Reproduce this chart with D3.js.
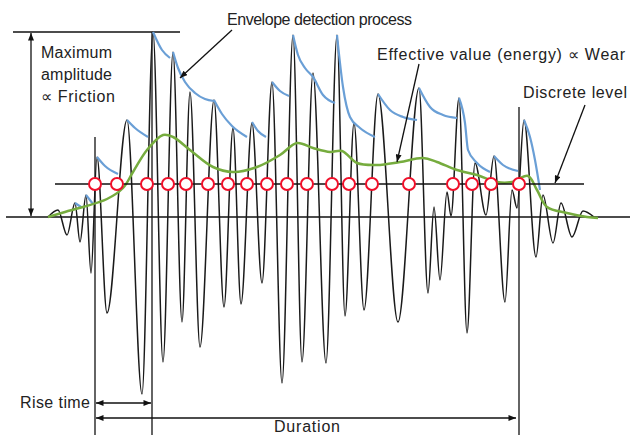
<!DOCTYPE html>
<html>
<head>
<meta charset="UTF-8">
<script src="https://cdn.jsdelivr.net/npm/d3@7"></script>
<style>
  body { margin: 0; background: #fff; }
  svg { display: block; }
  text { font-family: "Liberation Sans", Arial, sans-serif; font-size: 16px; fill: #222; }
</style>
</head>
<body>
<svg width="630" height="437"></svg>
<script>
// time in µs from the first arrival, amplitude in arbitrary units (baseline = 0)
const waveform = [
  [0,0],[10,7],[19,-18],[27,14],[32,-25],[38,22],[43,-56],[49,60],[59,-96],[79,97],
  [94,-177],[105,185],[115,-145],[125,165],[134,-105],[142,125],[152,-130],[166,117],
  [176,-90],[185,89],[193,-87],[204,94],[214,-66],[224,135],[234,-166],[245,182],
  [254,-145],[265,144],[278,-146],[289,182],[297,-99],[306,94],[316,-93],[330,123],
  [350,-105],[371,129],[380,-76],[386,10],[392,-63],[399,25],[403,1],[411,119],
  [419,-116],[427,54],[438,2],[446,61],[457,-85],[464,27],[469,9],[476,97],
  [488,-40],[495,22],[505,-26],[513,14],[524,-20],[535,6],[546,0]
];

// envelope detection: decay segments after each peak
const envelope = [
  [[27,14],[33,10]],
  [[38,22],[45,13]],
  [[49,60],[57,51],[70,43]],
  [[79,97],[87,89],[100,80]],
  [[105,185],[114,167],[122,159]],
  [[125,165],[130,149],[137,135],[147,124],[157,118],[166,116]],
  [[166,117],[174,103],[184,91],[199,80]],
  [[204,95],[210,86],[218,80]],
  [[224,135],[232,126],[241,121]],
  [[245,182],[250,162],[257,149],[265,140],[275,122],[287,114]],
  [[289,182],[295,130],[302,100],[312,89],[327,80]],
  [[330,123],[342,107],[355,100],[369,97]],
  [[371,129],[382,110],[395,102],[409,99]],
  [[411,119],[417,94],[420,67],[429,54],[442,45]],
  [[446,61],[455,52],[470,46]],
  [[476,97],[482,80],[487,57],[492,27]]
];

// effective value (energy)
const effective = [
  [0,0],[17,5],[35,10],[59,18],[75,29],[85,45],[99,67],[115,82],[125,80],[142,67],
  [165,50],[185,45],[209,50],[232,62],[249,74],[265,69],[282,65],[294,66],[309,54],
  [329,52],[352,55],[375,59],[389,55],[409,47],[429,42],[449,35],[464,35],[480,41],
  [489,27],[499,10],[519,4],[539,0],[550,-1]
];

// threshold crossings of the discrete level (counts)
const crossings = [47,69,99,120,138,160,180,199,219,239,259,284,301,324,361,405,424,443,471];

const discreteLevel = 33;
const maxAmplitude = 185;
const riseStart = 47, peakTime = 104, durationEnd = 471;

const svg = d3.select("svg");
const x = d3.scaleLinear().domain([0, 546]).range([48, 594]);
const y = d3.scaleLinear().domain([-185, 185]).range([402, 32]);

const defs = svg.append("defs");
defs.append("marker")
  .attr("id", "arrow")
  .attr("viewBox", "0 0 10 8")
  .attr("refX", 10).attr("refY", 4)
  .attr("markerWidth", 8).attr("markerHeight", 6)
  .attr("markerUnits", "userSpaceOnUse")
  .attr("orient", "auto-start-reverse")
  .append("path").attr("d", "M0,0L10,4L0,8z").attr("fill", "#111");

function line(x1, y1, x2, y2, sw) {
  return svg.append("line")
    .attr("x1", x1).attr("y1", y1).attr("x2", x2).attr("y2", y2)
    .attr("stroke", "#111").attr("stroke-width", sw || 1.3);
}

// baseline
line(6, y(0), 630, y(0), 1.5);

// time markers
line(x(riseStart), 137, x(riseStart), 435);
line(x(peakTime), y(maxAmplitude), x(peakTime), 435);
line(x(durationEnd), 107, x(durationEnd), 435);

// maximum amplitude
line(13, y(maxAmplitude), 180, y(maxAmplitude));
line(31, y(maxAmplitude) + 1, 31, y(0) - 1)
  .attr("marker-start", "url(#arrow)").attr("marker-end", "url(#arrow)");

// waveform
const wave = d3.line().x(d => x(d[0])).y(d => y(d[1])).curve(d3.curveMonotoneX);
svg.append("path").datum(waveform)
  .attr("d", wave).attr("fill", "none")
  .attr("stroke", "#1a1a1a").attr("stroke-width", 1.5);

// envelope
svg.selectAll(".env").data(envelope).join("path")
  .attr("class", "env")
  .attr("d", wave).attr("fill", "none")
  .attr("stroke", "#6a9fd6").attr("stroke-width", 2.2);

// effective value
const smooth = d3.line().x(d => x(d[0])).y(d => y(d[1])).curve(d3.curveCatmullRom.alpha(0.5));
svg.append("path").datum(effective)
  .attr("d", smooth).attr("fill", "none")
  .attr("stroke", "#76ac3e").attr("stroke-width", 2.5);

// discrete level
line(55, y(discreteLevel), 584, y(discreteLevel), 1.3);

svg.selectAll(".cross").data(crossings).join("circle")
  .attr("class", "cross")
  .attr("cx", d => x(d)).attr("cy", y(discreteLevel)).attr("r", 6)
  .attr("fill", "#fff").attr("stroke", "#f0102a").attr("stroke-width", 2);

// rise time and duration
line(x(riseStart) + 1, 403, x(peakTime) - 1, 403)
  .attr("marker-start", "url(#arrow)").attr("marker-end", "url(#arrow)");
line(x(riseStart) + 1, 418, x(durationEnd) - 3, 418)
  .attr("marker-start", "url(#arrow)").attr("marker-end", "url(#arrow)");

// callout arrows
line(232, 30, 180, 78).attr("marker-end", "url(#arrow)");
line(419, 64, 397, 162).attr("marker-end", "url(#arrow)");
line(585, 105, 555, 183).attr("marker-end", "url(#arrow)");

// labels
function label(tx, ty, s, len, anchor) {
  const t = svg.append("text").attr("x", tx).attr("y", ty)
    .attr("text-anchor", anchor || "start").text(s);
  if (len) t.attr("textLength", len).attr("lengthAdjust", "spacing");
  return t;
}
label(227, 25, "Envelope detection process", 185);
label(377, 60, "Effective value (energy)  \u221d  Wear", 248);
label(523, 98, "Discrete level", 104);
label(41, 58, "Maximum", 71);
label(41, 80, "amplitude", 71);
label(41, 102, "\u221d Friction", 74);
label(90, 408, "Rise time", 70, "end");
label(274, 432, "Duration", 66);
</script>
</body>
</html>
